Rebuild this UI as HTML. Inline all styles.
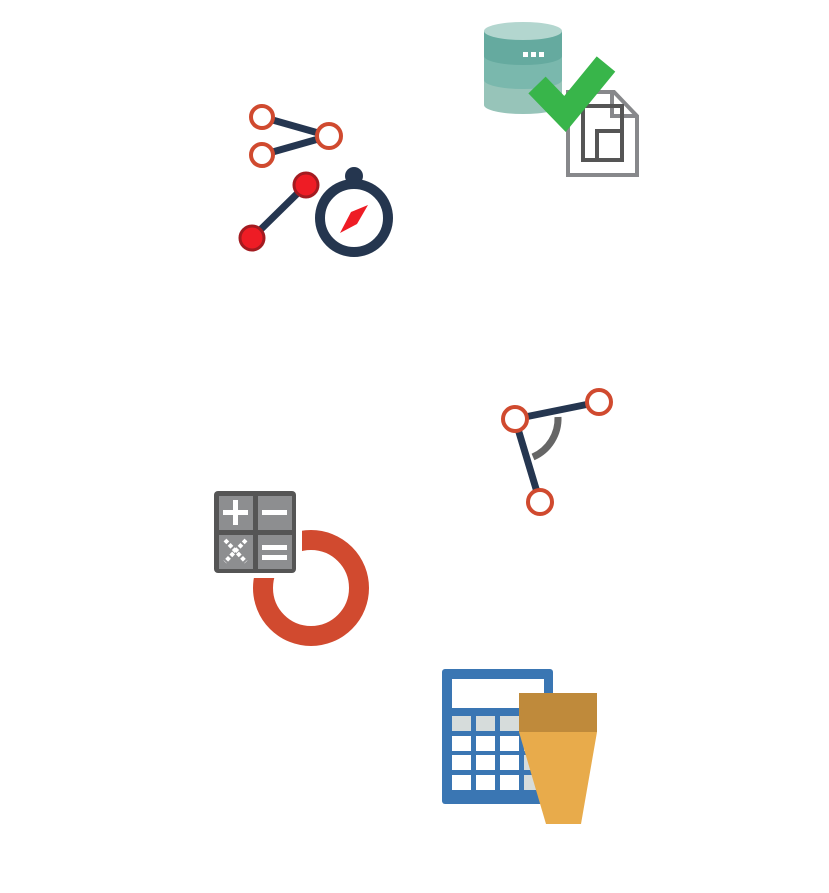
<!DOCTYPE html>
<html><head><style>html,body{margin:0;padding:0;background:#fff}</style></head><body>
<svg width="829" height="888" viewBox="0 0 829 888" xmlns="http://www.w3.org/2000/svg">
<!-- share icon -->
<g stroke="#253650" stroke-width="7"><line x1="262" y1="117" x2="329" y2="136"/><line x1="262" y1="155" x2="329" y2="136"/></g>
<g fill="#fff" stroke="#d04a2f" stroke-width="4"><circle cx="262" cy="117" r="11"/><circle cx="262" cy="155" r="11"/><circle cx="329" cy="136" r="12"/></g>
<!-- red dots -->
<line x1="252" y1="238" x2="306" y2="185" stroke="#253650" stroke-width="7"/>
<g fill="#ee1c25" stroke="#a31b20" stroke-width="3"><circle cx="252" cy="238" r="12"/><circle cx="306" cy="185" r="12"/></g>
<!-- compass -->
<circle cx="354" cy="176" r="9" fill="#25364f"/>
<circle cx="354" cy="218" r="34" fill="#fff" stroke="#25364f" stroke-width="10"/>
<polygon points="340,233 351,212 368,205 357,224" fill="#ee1c25"/>
<!-- database -->
<path d="M484,31 L562,31 L562,105 A39,9 0 0 1 484,105 Z" fill="#97c4b9"/>
<path d="M484,31 L562,31 L562,80 A39,9 0 0 1 484,80 Z" fill="#7ab8ad"/>
<path d="M484,31 L562,31 L562,56 A39,9 0 0 1 484,56 Z" fill="#65aa9f"/>
<ellipse cx="523" cy="31" rx="39" ry="9" fill="#b3d6cf"/>
<g fill="#fff"><rect x="523" y="52" width="5" height="5"/><rect x="531" y="52" width="5" height="5"/><rect x="539" y="52" width="5" height="5"/></g>
<!-- document -->
<path d="M568,92 L614,92 L637,116 L637,175 L568,175 Z" fill="#fff" stroke="#87888b" stroke-width="4"/>
<path d="M612,92 L612,116 L637,116" fill="none" stroke="#87888b" stroke-width="4"/>
<rect x="583" y="106" width="39" height="54" fill="none" stroke="#555" stroke-width="4"/>
<rect x="597" y="131" width="25" height="29" fill="none" stroke="#555" stroke-width="4"/>
<!-- check -->
<polyline points="537,85 565,114 606,64" fill="none" stroke="#38b54a" stroke-width="24"/>
<!-- angle -->
<path d="M558,417 A42,42 0 0 1 533,457" fill="none" stroke="#666" stroke-width="7"/>
<g stroke="#253650" stroke-width="7"><line x1="515" y1="419" x2="599" y2="402"/><line x1="515" y1="419" x2="540" y2="502"/></g>
<g fill="#fff" stroke="#d04a2f" stroke-width="4"><circle cx="515" cy="419" r="12"/><circle cx="599" cy="402" r="12"/><circle cx="540" cy="502" r="12"/></g>
<!-- ring + calc -->
<circle cx="311" cy="588" r="48" fill="none" stroke="#d14a2f" stroke-width="20"/>
<rect x="208" y="485" width="94" height="93" fill="#fff"/>
<rect x="214" y="491" width="82" height="82" rx="4" fill="#555"/>
<g fill="#8d8e90"><rect x="219" y="496" width="34" height="34"/><rect x="258" y="496" width="34" height="34"/><rect x="219" y="535" width="34" height="34"/><rect x="258" y="535" width="34" height="34"/></g>
<g fill="#fff"><rect x="223" y="510" width="25" height="5"/><rect x="233" y="500" width="5" height="25"/><rect x="262" y="510" width="25" height="5"/><rect x="262" y="545" width="25" height="5"/><rect x="262" y="555" width="25" height="5"/></g>
<g stroke="#fff" stroke-width="4" stroke-dasharray="4 2"><line x1="225" y1="540" x2="246" y2="562"/><line x1="246" y1="540" x2="225" y2="562"/></g>
<!-- table calc -->
<rect x="442" y="669" width="111" height="135" rx="3" fill="#3a76b3"/>
<rect x="452" y="679" width="92" height="29" fill="#fff"/>
<g fill="#d6dcdb"><rect x="452" y="716" width="19" height="15"/><rect x="476" y="716" width="19" height="15"/><rect x="500" y="716" width="19" height="15"/><rect x="524" y="716" width="19" height="15"/></g>
<g fill="#fff">
<rect x="452" y="736" width="19" height="15"/><rect x="476" y="736" width="19" height="15"/><rect x="500" y="736" width="19" height="15"/><rect x="524" y="736" width="19" height="15" fill="#d6dcdb"/>
<rect x="452" y="755" width="19" height="15"/><rect x="476" y="755" width="19" height="15"/><rect x="500" y="755" width="19" height="15"/><rect x="524" y="755" width="19" height="15" fill="#d6dcdb"/>
<rect x="452" y="775" width="19" height="15"/><rect x="476" y="775" width="19" height="15"/><rect x="500" y="775" width="19" height="15"/><rect x="524" y="775" width="19" height="15" fill="#d6dcdb"/>
</g>
<rect x="519" y="693" width="78" height="39" fill="#bf8a3b"/>
<polygon points="519,732 597,732 581,824 546,824" fill="#e8ab4b"/>
</svg>
</body></html>
